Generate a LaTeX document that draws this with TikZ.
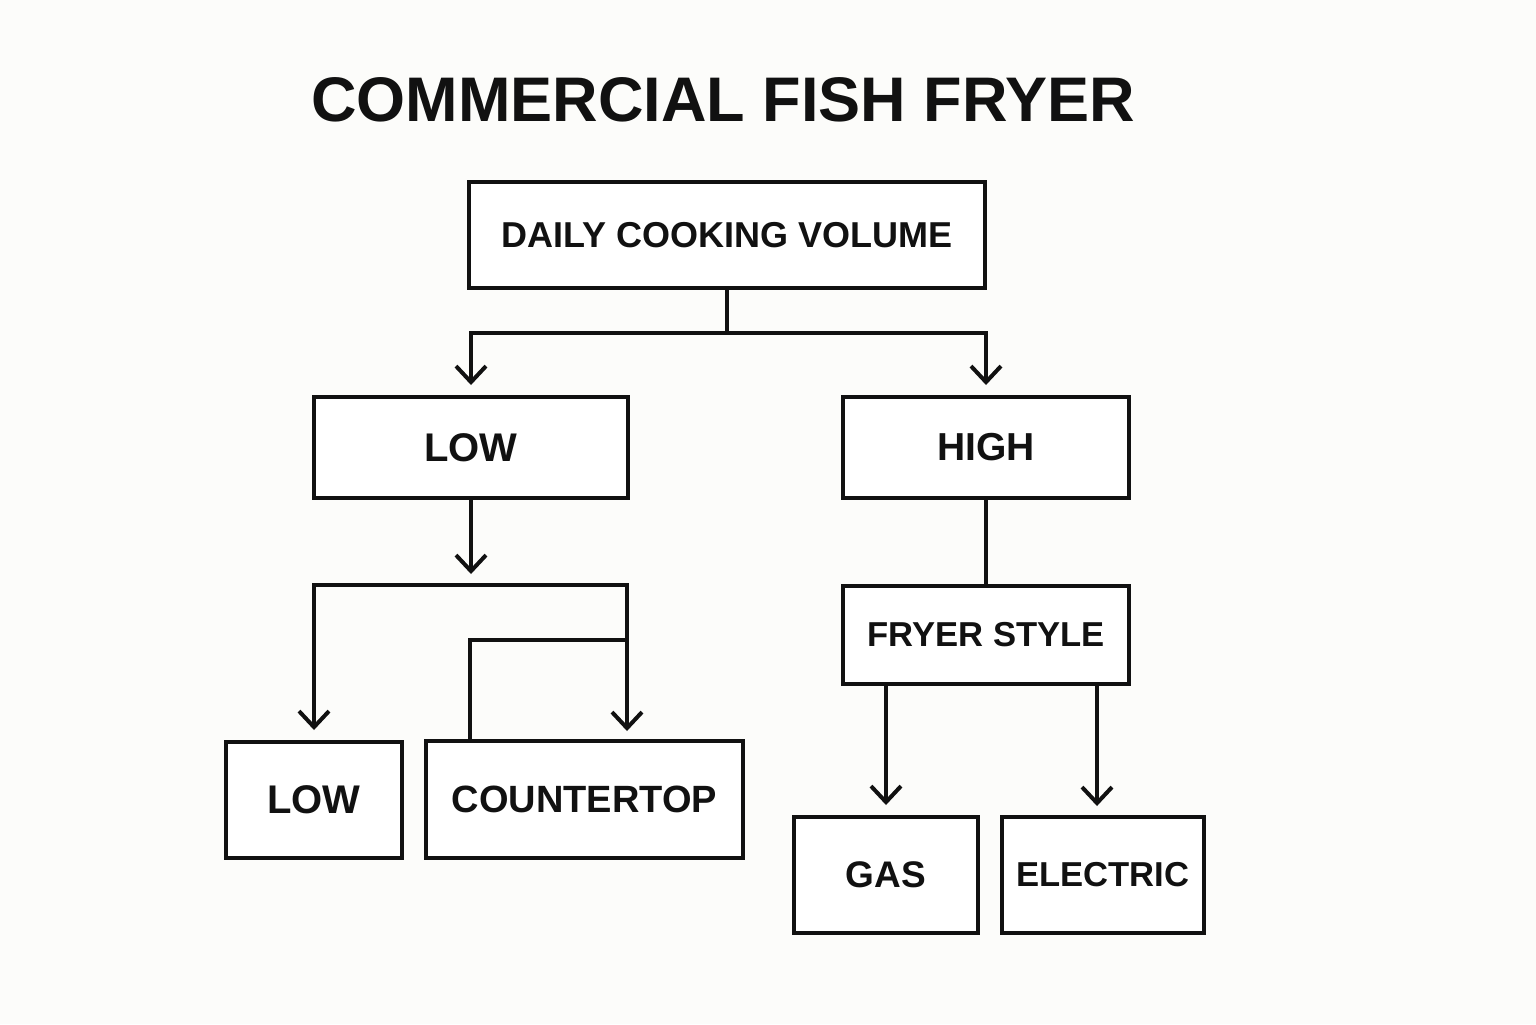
\documentclass[tikz,border=0pt]{standalone}
\usepackage{fontspec}
\setmainfont{Liberation Sans}
\usetikzlibrary{arrows.meta}
\definecolor{bgc}{HTML}{FCFCFA}
\definecolor{ink}{HTML}{111111}
\begin{document}
\begin{tikzpicture}[x=0.5pt,y=-0.5pt,
  box/.style={draw=ink,line width=2pt,fill=white,inner sep=0pt,font=\bfseries\fontsize{19pt}{22pt}\selectfont,text=ink},
  conn/.style={draw=ink,line width=2pt},
  tip/.tip={Straight Barb[length=8pt,width=15pt,line width=2pt]},
  arr/.style={conn,-tip},
  arr2/.style={conn,tip-tip}]
\fill[bgc] (0,0) rectangle (1536,1024);
\useasboundingbox (0,0) rectangle (1536,1024);
\node[font=\bfseries\fontsize{31.5pt}{36pt}\selectfont,text=ink] (title) at (723,100) {COMMERCIAL FISH FRYER};
\node[box,minimum width=258pt,minimum height=53pt,font=\bfseries\fontsize{18pt}{22pt}\selectfont] (daily) at (727,235) {DAILY COOKING VOLUME};
\node[box,minimum width=157pt,minimum height=50.5pt,font=\bfseries\fontsize{20pt}{22pt}\selectfont] (low) at (471,447.5) {LOW};
\node[box,minimum width=143pt,minimum height=50.5pt,font=\bfseries\fontsize{19.5pt}{22pt}\selectfont] (high) at (986,447.5) {HIGH};
\node[box,minimum width=143pt,minimum height=49pt,font=\bfseries\fontsize{17.3pt}{22pt}\selectfont] (fryer) at (986,635) {FRYER STYLE};
\node[box,minimum width=88pt,minimum height=58pt,font=\bfseries\fontsize{20pt}{22pt}\selectfont] (low2) at (314,800) {LOW};
\node[box,minimum width=158.5pt,minimum height=58.5pt] (counter) at (584.5,799.5) {COUNTERTOP};
\node[box,minimum width=92pt,minimum height=58pt,font=\bfseries\fontsize{18.5pt}{22pt}\selectfont] (gas) at (886,875) {GAS};
\node[box,minimum width=101pt,minimum height=58pt,font=\bfseries\fontsize{17.3pt}{22pt}\selectfont] (elec) at (1103,875) {ELECTRIC};
% top split
\coordinate (j1) at (727,333);
\draw[conn] (daily.south) -- (j1);
\draw[arr2] ([yshift=5pt]low.north) |- (j1) -| ([yshift=5pt]high.north);
% low branch
\coordinate (a1) at (471,574);
\draw[arr] (low.south) -- (a1);
\coordinate (b2) at (627,585);
\coordinate (b3) at (627,731);
\coordinate (b4) at (627,640);
\draw[arr2] (b3) -- (b2) -| ([yshift=5pt]low2.north);
\draw[conn] ([xshift=-57.25pt]counter.north) |- (b4);
% high branch
\draw[conn] (high.south) -- (fryer.north);
\draw[arr] (gas.north |- fryer.south) -- ([yshift=5pt]gas.north);
\coordinate (e1) at (1097,806);
\draw[arr] (e1 |- fryer.south) -- (e1);
\end{tikzpicture}
\end{document}
